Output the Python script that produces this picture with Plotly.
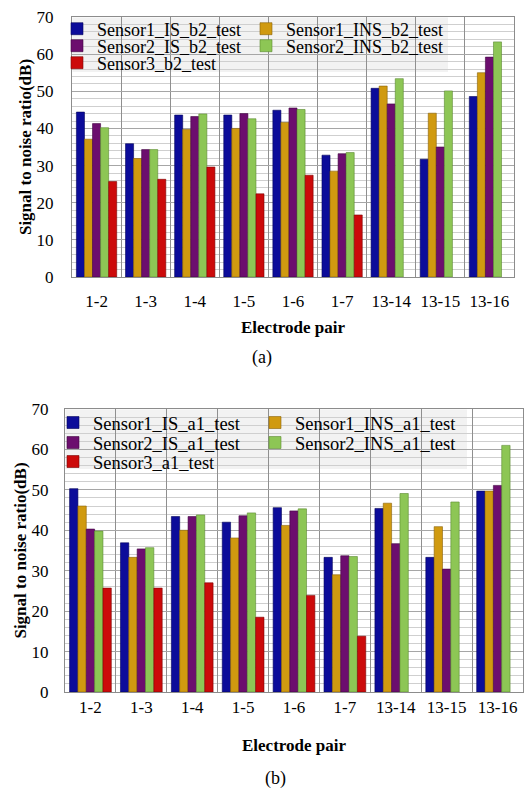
import plotly.graph_objects as go

# Electrode pairs on the x axis
pairs = ["1-2", "1-3", "1-4", "1-5", "1-6", "1-7", "13-14", "13-15", "13-16"]

# (a) b2 test, SNR in dB
s1_is_b2 = [44.4, 35.9, 43.6, 43.6, 44.9, 32.8, 50.8, 31.7, 48.6]
s1_ins_b2 = [37.1, 31.9, 39.7, 40.0, 41.6, 28.5, 51.4, 44.1, 55.0]
s2_is_b2 = [41.3, 34.3, 43.2, 44.0, 45.5, 33.2, 46.6, 35.0, 59.2]
s2_ins_b2 = [40.2, 34.3, 43.9, 42.6, 45.1, 33.5, 53.4, 50.1, 63.3]
s3_b2 = [25.7, 26.3, 29.6, 22.4, 27.4, 16.7, None, None, None]

# (b) a1 test, SNR in dB
s1_is_a1 = [50.3, 36.9, 43.4, 42.0, 45.6, 33.3, 45.4, 33.3, 49.7]
s1_ins_a1 = [46.0, 33.3, 40.0, 38.1, 41.2, 29.0, 46.7, 40.9, 49.7]
s2_is_a1 = [40.3, 35.4, 43.4, 43.6, 44.8, 33.7, 36.7, 30.4, 51.1]
s2_ins_a1 = [39.8, 35.7, 43.8, 44.3, 45.3, 33.5, 49.1, 47.0, 61.0]
s3_a1 = [25.7, 25.7, 27.0, 18.5, 23.9, 13.8, None, None, None]

y_ticks = [0, 10, 20, 30, 40, 50, 60, 70]

W, H = 525, 796
SERIF = "Times New Roman, Liberation Serif, serif"
colors = ["#0c0c9a", "#d09a10", "#6c0e6e", "#8dc655", "#cc0a0a"]
edges = ["#05055a", "#8a6208", "#420642", "#5a8a30", "#7a0404"]


def px_x(p):
    return p / W


def px_y(p):
    return 1 - p / H


fig = go.Figure()

# each legend entry gets its own small legend box: (left px, row centre px)
panels = [
    dict(suffix="", series=[s1_is_b2, s1_ins_b2, s2_is_b2, s2_ins_b2, s3_b2],
         names=["Sensor1_IS_b2_test", "Sensor1_INS_b2_test", "Sensor2_IS_b2_test",
                "Sensor2_INS_b2_test", "Sensor3_b2_test"],
         slots=[(57, 29), (246, 29), (57, 46), (246, 46), (57, 63)], font=18),
    dict(suffix="2", series=[s1_is_a1, s1_ins_a1, s2_is_a1, s2_ins_a1, s3_a1],
         names=["Sensor1_IS_a1_test", "Sensor1_INS_a1_test", "Sensor2_IS_a1_test",
                "Sensor2_INS_a1_test", "Sensor3_a1_test"],
         slots=[(53, 423), (255, 423), (53, 443), (255, 443), (53, 462)], font=18.5),
]

legend_layouts = {}
k = 0
for p in panels:
    for vals, name, col, edge, (lx, ly) in zip(p["series"], p["names"], colors, edges, p["slots"]):
        k += 1
        lid = "legend" if k == 1 else "legend%d" % k
        fig.add_trace(go.Bar(
            x=pairs, y=vals, name=name, showlegend=True,
            marker=dict(color=col, line=dict(color=edge, width=0.6)),
            xaxis="x" + p["suffix"], yaxis="y" + p["suffix"],
            legend=lid,
        ))
        legend_layouts[lid] = dict(
            visible=True,
            orientation="h", x=px_x(lx), xanchor="left", y=px_y(ly), yanchor="middle",
            bgcolor="rgba(0,0,0,0)", itemwidth=30,
            font=dict(family=SERIF, size=p["font"], color="black"),
            itemclick=False, itemdoubleclick=False,
        )

# plot areas in pixels: (left, right, top, bottom)
areas = {"": (72, 514, 17, 277), "2": (65, 523, 409, 692)}

axis_common_y = dict(
    range=[0, 70], tickvals=y_ticks, showgrid=True, gridcolor="#a6a6a6", gridwidth=1,
    minor=dict(dtick=2, showgrid=True, gridcolor="#cfcfcf", gridwidth=1),
    showline=True, mirror=True, linecolor="#8c8c8c", linewidth=1,
    ticks="outside", ticklen=14, tickcolor="rgba(0,0,0,0)",
    tickfont=dict(family=SERIF, size=17, color="black"),
    zeroline=False, fixedrange=True, automargin=False,
    title=dict(text="<b>Signal to noise ratio(dB)</b>",
               font=dict(family=SERIF, size=17, color="black"), standoff=0),
)
axis_common_x = dict(
    type="category", tickson="boundaries", showgrid=True, gridcolor="#8f8f8f",
    showline=True, mirror=True, linecolor="#8c8c8c", linewidth=1,
    ticks="outside", ticklen=4, tickcolor="rgba(0,0,0,0)", tickangle=0,
    tickfont=dict(family=SERIF, size=17, color="black"),
    fixedrange=True, automargin=False,
    title=dict(text="<b>Electrode pair</b>",
               font=dict(family=SERIF, size=17, color="black")),
)

layout = dict(legend_layouts)
for sfx, (l, r, t, b) in areas.items():
    xa = dict(axis_common_x, domain=[px_x(l), px_x(r)], anchor="y" + sfx)
    ya = dict(axis_common_y, domain=[px_y(b), px_y(t)], anchor="x" + sfx)
    if sfx == "":
        xa["ticklabelstandoff"] = 9
        xa["title"] = dict(xa["title"], standoff=10)
    else:
        xa["ticklabelstandoff"] = 0
        xa["title"] = dict(xa["title"], standoff=22)
        ya["ticklen"] = 12
    layout["xaxis" + sfx] = xa
    layout["yaxis" + sfx] = ya

# light grey legend panels covering the grid
shapes = [
    dict(type="rect", xref="paper", yref="paper", layer="between",
         x0=px_x(72.5), x1=px_x(448), y0=px_y(72), y1=px_y(17.5),
         fillcolor="#f2f2f2", line=dict(width=0)),
    dict(type="rect", xref="paper", yref="paper", layer="between",
         x0=px_x(65.5), x1=px_x(467), y0=px_y(469), y1=px_y(409.5),
         fillcolor="#f2f2f2", line=dict(width=0)),
]

annotations = [
    dict(text="(a)", x=px_x(262), y=px_y(357), xref="paper", yref="paper",
         xanchor="center", yanchor="middle",
         showarrow=False, font=dict(family=SERIF, size=18, color="black")),
    dict(text="(b)", x=px_x(275), y=px_y(778), xref="paper", yref="paper",
         xanchor="center", yanchor="middle",
         showarrow=False, font=dict(family=SERIF, size=18, color="black")),
]

fig.update_layout(
    **layout,
    showlegend=True,
    width=W, height=H, margin=dict(l=0, r=0, t=0, b=0, autoexpand=False),
    paper_bgcolor="white", plot_bgcolor="white",
    barmode="group", bargap=0.18, bargroupgap=0.0,
    shapes=shapes, annotations=annotations,
    font=dict(family=SERIF, color="black"),
)

fig.write_html("out.html")
